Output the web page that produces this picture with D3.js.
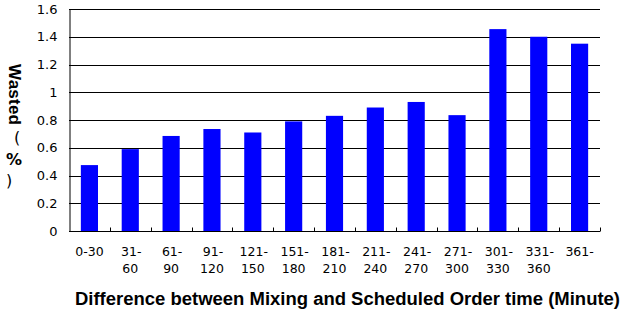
<!DOCTYPE html>
<html>
<head>
<meta charset="utf-8">
<script src="https://cdn.jsdelivr.net/npm/d3@7"></script>
<style>
body { margin: 0; background: #fff; }
</style>
</head>
<body>
<div id="chart"></div>
<script>
var categories = [["0-30"], ["31-", "60"], ["61-", "90"], ["91-", "120"], ["121-", "150"], ["151-", "180"],
    ["181-", "210"], ["211-", "240"], ["241-", "270"], ["271-", "300"], ["301-", "330"], ["331-", "360"], ["361-"]]
var wasted = [0.475, 0.59, 0.685, 0.735, 0.71, 0.79, 0.83, 0.89, 0.93, 0.835, 1.455, 1.40, 1.35]
var yTicks = [0, 0.2, 0.4, 0.6, 0.8, 1, 1.2, 1.4, 1.6]
var yTitle = "Wasted"
var yTitleUnit = ["(", "%", ")"]
var xTitle = "Difference between Mixing and Scheduled Order time (Minute)"

var width = 622, height = 314
var margin = { left: 69, right: 22, top: 9, bottom: 83 }

var svg = d3.select("#chart").append("svg")
    .attr("width", width)
    .attr("height", height)

var x = d3.scaleBand()
    .domain(d3.range(categories.length))
    .range([margin.left, width - margin.right])
    .paddingInner(0.58)
    .paddingOuter(0.29)

var xb = d3.scaleBand()
    .domain(d3.range(categories.length))
    .range([margin.left, width - margin.right])

var y = d3.scaleLinear()
    .domain([0, 1.6])
    .range([height - margin.bottom, margin.top])

// gridlines
svg.selectAll("line.grid")
    .data(yTicks.slice(1))
    .enter()
    .append("line")
    .attr("x1", margin.left)
    .attr("x2", width - margin.right)
    .attr("y1", d => Math.round(y(d)) + 0.5)
    .attr("y2", d => Math.round(y(d)) + 0.5)
    .attr("stroke", "#000")
    .attr("stroke-width", 1)

// bars
svg.selectAll("rect")
    .data(wasted)
    .enter()
    .append("rect")
    .attr("x", (d, i) => x(i))
    .attr("width", x.bandwidth())
    .attr("y", d => y(d))
    .attr("height", d => y(0) - y(d))
    .attr("fill", "#0000ff")

// y axis
var yAxis = svg.append("g")
    .attr("transform", "translate(" + (margin.left + 0.5) + ",0)")
    .call(d3.axisLeft(y).tickValues(yTicks).tickSize(0).tickPadding(12).tickFormat(d => d3.format("")(d)))
yAxis.select(".domain").attr("stroke", "#000")
yAxis.selectAll("text")
    .attr("font-family", "DejaVu Sans, Verdana, sans-serif")
    .attr("font-size", 13)
    .attr("fill", "#000")

// x axis
var y0 = Math.round(y(0)) + 0.5
svg.append("line")
    .attr("x1", margin.left)
    .attr("x2", width - margin.right)
    .attr("y1", y0)
    .attr("y2", y0)
    .attr("stroke", "#000")

svg.selectAll("line.xtick")
    .data(d3.range(1, categories.length + 1))
    .enter()
    .append("line")
    .attr("x1", d => Math.round(margin.left + d * xb.bandwidth()) + 0.5)
    .attr("x2", d => Math.round(margin.left + d * xb.bandwidth()) + 0.5)
    .attr("y1", y0 - 4)
    .attr("y2", y0)
    .attr("stroke", "#000")

var labels = svg.selectAll("text.xlab")
    .data(categories)
    .enter()
    .append("text")
    .attr("text-anchor", "middle")
    .attr("font-family", "DejaVu Sans, Verdana, sans-serif")
    .attr("font-size", 12.5)
    .attr("fill", "#000")

labels.each(function(d, i) {
    var cx = xb(i) + xb.bandwidth() / 2
    d3.select(this).selectAll("tspan")
        .data(d)
        .enter()
        .append("tspan")
        .attr("x", (t, j) => j === 0 && d.length > 1 ? cx + 1 : cx)
        .attr("y", (t, j) => 256 + j * 17)
        .text(t => t)
})

// axis titles
svg.append("text")
    .attr("x", 347.5)
    .attr("y", 305)
    .attr("text-anchor", "middle")
    .attr("font-family", "'Liberation Sans', Arial, sans-serif")
    .attr("font-weight", "bold")
    .attr("font-size", 17.5)
    .attr("textLength", 545)
    .attr("lengthAdjust", "spacingAndGlyphs")
    .attr("fill", "#000")
    .text(xTitle)

svg.append("text")
    .attr("transform", "translate(9,64) rotate(90)")
    .attr("text-anchor", "start")
    .attr("font-family", "'Liberation Sans', Arial, sans-serif")
    .attr("font-weight", "bold")
    .attr("font-size", 17)
    .attr("textLength", 61)
    .attr("fill", "#000")
    .text(yTitle)

// unit stacked upright, like vertical east-asian text
var unitDx = [3, 0, -5]
svg.append("text")
    .attr("text-anchor", "middle")
    .attr("font-family", "'DejaVu Sans', sans-serif")
    .attr("font-size", 16)
    .attr("fill", "#000")
    .selectAll("tspan")
    .data(yTitleUnit)
    .enter()
    .append("tspan")
    .attr("x", (d, i) => 14 + unitDx[i])
    .attr("y", (d, i) => 143 + i * 21.5)
    .attr("font-weight", (d, i) => i === 1 ? "bold" : "normal")
    .text(d => d)
</script>
</body>
</html>
